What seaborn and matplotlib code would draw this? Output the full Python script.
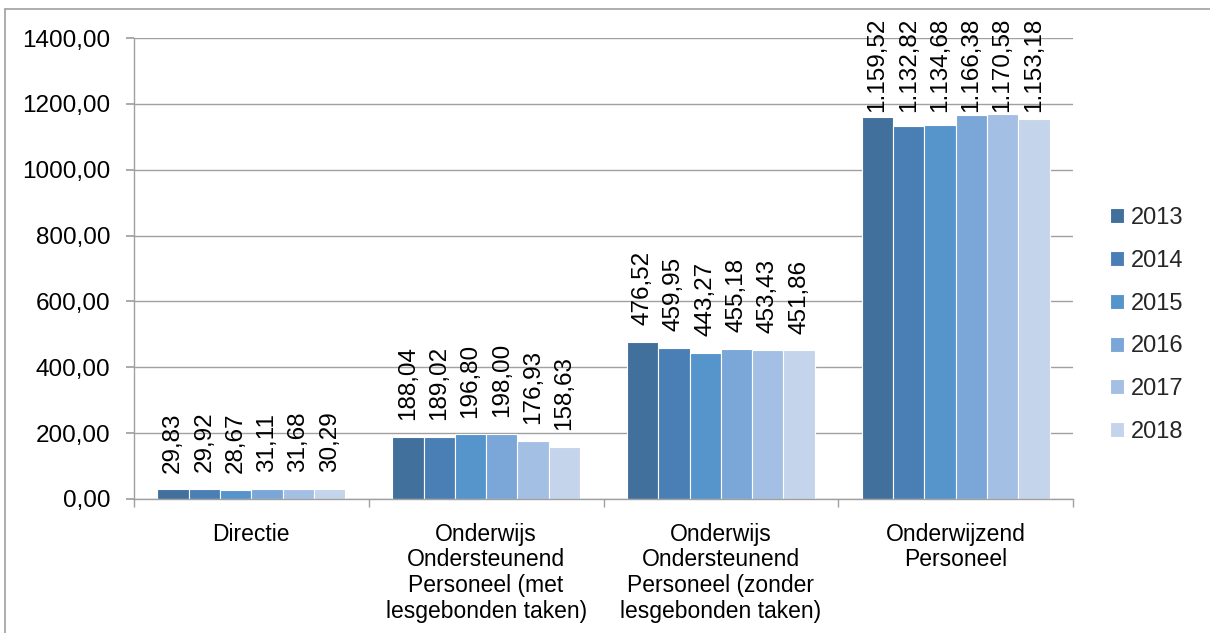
import pandas as pd
import seaborn as sns
import matplotlib.pyplot as plt
from matplotlib.ticker import FuncFormatter, FixedLocator
from matplotlib.lines import Line2D

# Categorieen, jaren en waarden (FTE)
categorieen = ['Directie',
               'Onderwijs\nOndersteunend\nPersoneel (met\nlesgebonden taken)',
               'Onderwijs\nOndersteunend\nPersoneel (zonder\nlesgebonden taken)',
               'Onderwijzend\nPersoneel']
jaren = ['2013', '2014', '2015', '2016', '2017', '2018']
directie = [29.83, 29.92, 28.67, 31.11, 31.68, 30.29]
oop_met = [188.04, 189.02, 196.80, 198.00, 176.93, 158.63]
oop_zonder = [476.52, 459.95, 443.27, 455.18, 453.43, 451.86]
op = [1159.52, 1132.82, 1134.68, 1166.38, 1170.58, 1153.18]
kleuren = ['#41709c', '#4a7fb5', '#5595cc', '#7aa7d8', '#a3c0e4', '#c4d4eb']

waarden = [directie, oop_met, oop_zonder, op]
rijen = []
for cat, reeks in zip(categorieen, waarden):
    for jaar, w in zip(jaren, reeks):
        rijen.append({'Categorie': cat, 'Jaar': jaar, 'FTE': w})
df = pd.DataFrame(rijen)

sns.set_theme(style='white')
plt.rcParams['font.family'] = ['Liberation Sans', 'DejaVu Sans']

fig = plt.figure(figsize=(12.1, 6.33), dpi=100)
ax = fig.add_axes([134 / 1210, 1 - 499 / 633, (1073 - 134) / 1210, (499 - 38) / 633])

sns.barplot(data=df, x='Categorie', y='FTE', hue='Jaar', palette=kleuren,
            order=categorieen, hue_order=jaren, edgecolor='white', linewidth=0.8,
            saturation=1, ax=ax, legend=True)


def nl(v):
    s = f'{v:,.2f}'
    return s.replace(',', 'X').replace('.', ',').replace('X', '.')


labels_alle = []
for cont in ax.containers:
    labels = [nl(b.get_height()) for b in cont]
    labels_alle += ax.bar_label(cont, labels=labels, rotation=90, padding=12,
                                fontsize=17.5, color='black')

grijs = '#a0a0a0'
ax.set_ylim(0, 1400)
ax.set_xlim(-0.5, 3.5)
ax.set_yticks(range(0, 1401, 200))
ax.yaxis.set_major_formatter(FuncFormatter(lambda v, p: f'{v:.2f}'.replace('.', ',')))
ax.yaxis.grid(True, color=grijs, linewidth=1)
ax.set_axisbelow(True)
ax.set_xlabel('')
ax.set_ylabel('')

for s in ['top', 'right']:
    ax.spines[s].set_visible(False)
for s in ['left', 'bottom']:
    ax.spines[s].set_color(grijs)
    ax.spines[s].set_linewidth(1)

ax.xaxis.set_minor_locator(FixedLocator([-0.5, 0.5, 1.5, 2.5, 3.5]))
ax.tick_params(axis='x', which='major', length=0, pad=17, labelsize=16.5, colors='black')
ax.tick_params(axis='x', which='minor', length=6, color=grijs, bottom=True)
ax.tick_params(axis='y', which='major', length=6, color=grijs, left=True, pad=11,
               labelsize=17.5, labelcolor='black')
for t in ax.get_xticklabels():
    t.set_linespacing(1.15)

handles, labs = ax.get_legend_handles_labels()
ax.legend(handles, labs, loc='center left', bbox_to_anchor=(1110 / 1210, 1 - 325 / 633),
          bbox_transform=fig.transFigure, frameon=False, fontsize=17,
          handlelength=0.6, handleheight=0.6, handletextpad=0.3,
          labelspacing=0.88, borderpad=0, borderaxespad=0)

# kader om de figuur (alleen links en boven zichtbaar)
fig.add_artist(Line2D([5 / 1210, 5 / 1210], [0, 1 - 9 / 633], color=grijs, lw=1.2,
                      transform=fig.transFigure))
fig.add_artist(Line2D([5 / 1210, 1], [1 - 9 / 633, 1 - 9 / 633], color=grijs, lw=1.2,
                      transform=fig.transFigure))

# labels die boven de grafiek uitsteken omlaag schuiven (zoals Excel doet)
fig.canvas.draw()
grens = fig.bbox.height - 18
for t in labels_alle:
    bb = t.get_window_extent()
    if bb.y1 > grens:
        dx, dy = t.xyann
        t.xyann = (dx, dy - (bb.y1 - grens) * 72 / fig.dpi)

fig.savefig('out.png', dpi=100)
